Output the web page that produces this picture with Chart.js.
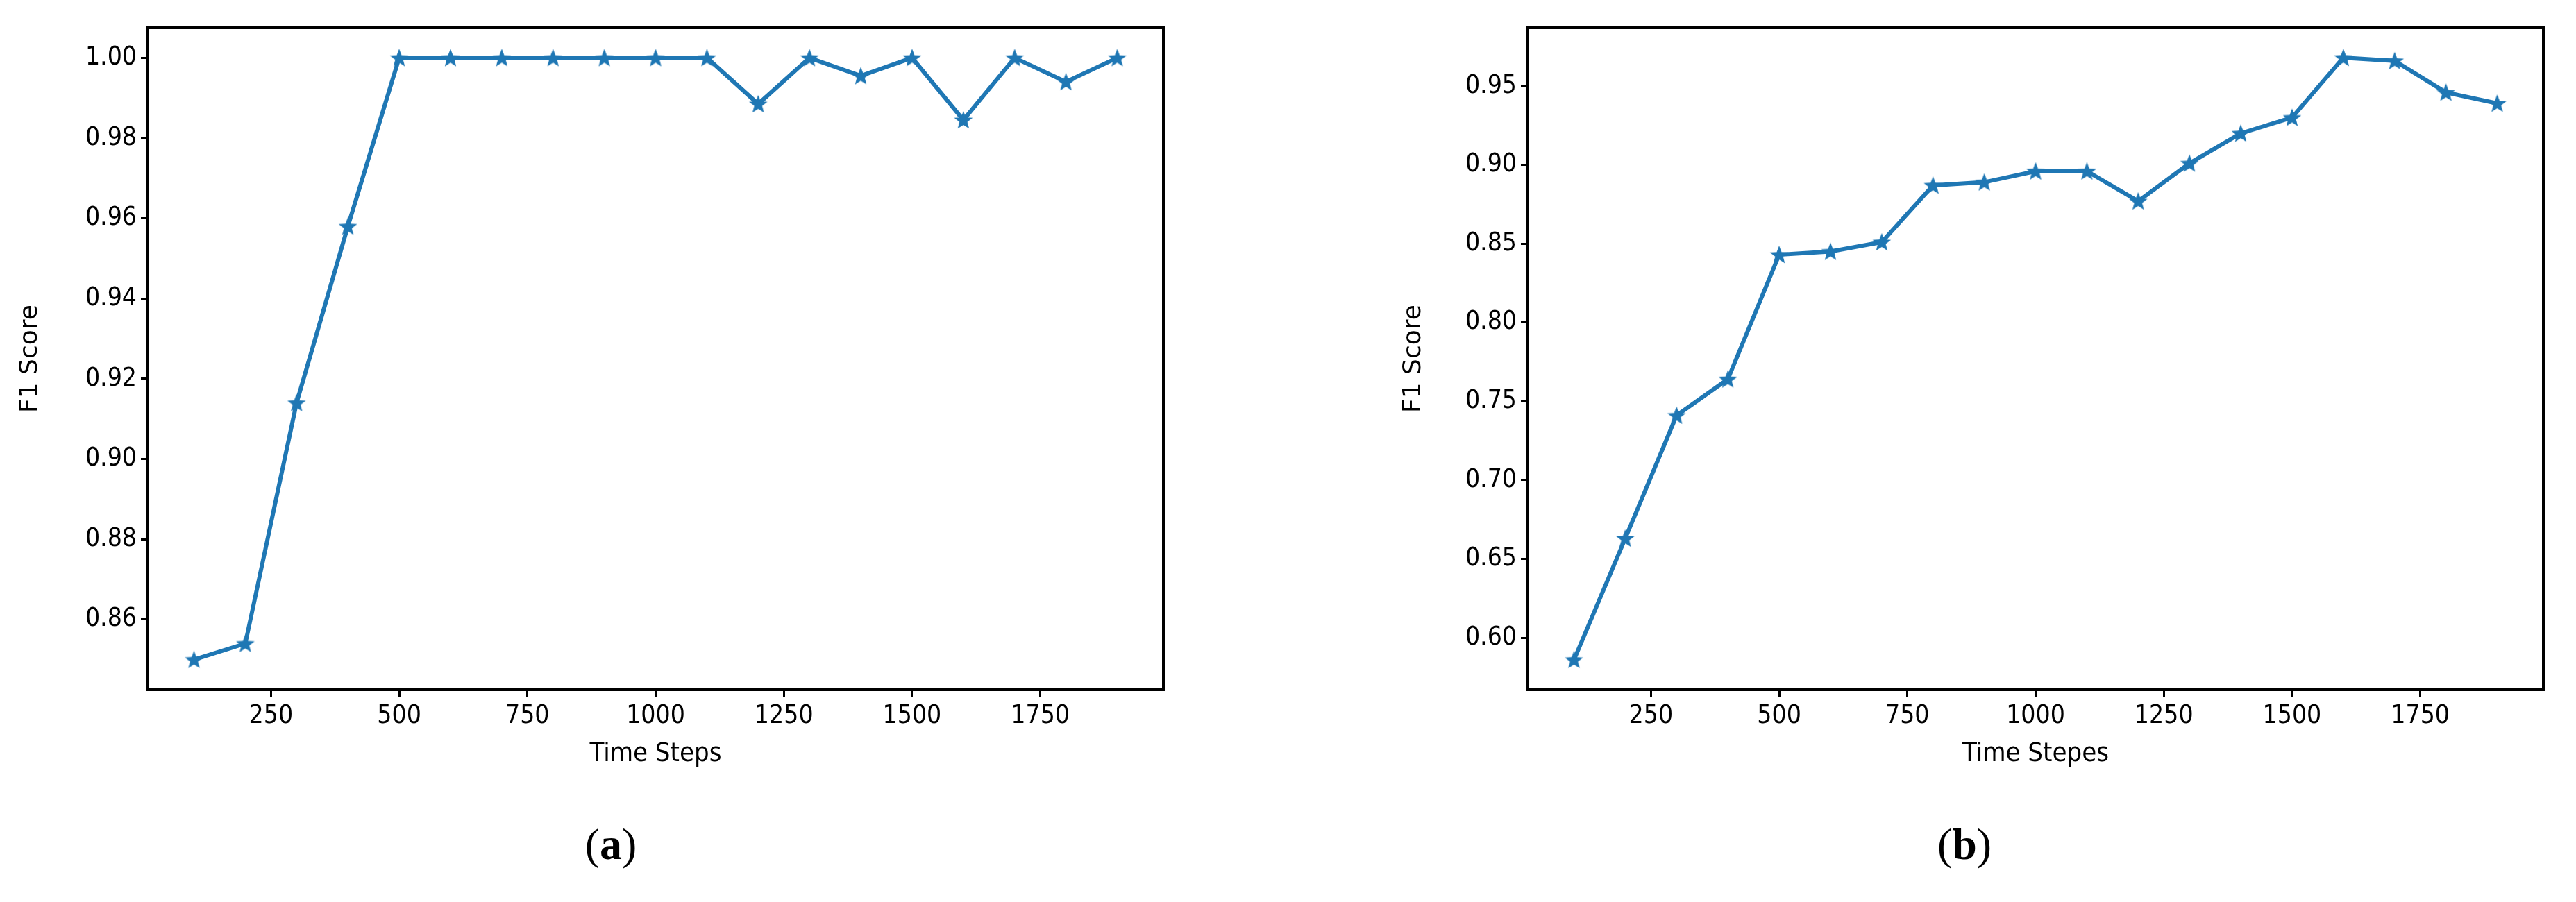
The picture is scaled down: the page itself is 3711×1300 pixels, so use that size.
<!DOCTYPE html>
<html><head><meta charset="utf-8">
<script src="https://cdn.jsdelivr.net/npm/chart.js@4"></script>
<style>
body{margin:0;width:3711px;height:1300px;background:#fff;position:relative;overflow:hidden}
.w{position:absolute;top:0;height:1300px}
.cap{position:absolute;top:1180px;font-family:"Liberation Serif",serif;font-size:64px;transform:translateX(-50%)}
</style></head><body>
<div class="w" style="left:0;width:1855px"><canvas id="a"></canvas></div>
<div class="w" style="left:1855px;width:1856px"><canvas id="b"></canvas></div>
<div class="cap" style="left:880px">(<b>a</b>)</div>
<div class="cap" style="left:2830px">(<b>b</b>)</div>
<script>
const steps=[100,200,300,400,500,600,700,800,900,1000,1100,1200,1300,1400,1500,1600,1700,1800,1900];
const f1A=[0.850,0.854,0.914,0.958,1.0,1.0,1.0,1.0,1.0,1.0,1.0,0.9885,1.0,0.9955,1.0,0.9845,1.0,0.994,1.0];
const f1B=[0.586,0.663,0.741,0.764,0.843,0.845,0.851,0.887,0.889,0.896,0.896,0.877,0.901,0.920,0.930,0.968,0.966,0.946,0.939];
const xTicks=[250,500,750,1000,1250,1500,1750];
const yTicksA=[0.86,0.88,0.90,0.92,0.94,0.96,0.98,1.00];
const yTicksB=[0.60,0.65,0.70,0.75,0.80,0.85,0.90,0.95];
const star=document.createElement('canvas');star.width=star.height=30;
(function(){const c=star.getContext('2d');c.fillStyle='#1f77b4';c.beginPath();
for(let i=0;i<10;i++){const r=i%2?6:14,a=-Math.PI/2+i*Math.PI/5;c.lineTo(15+r*Math.cos(a),16+r*Math.sin(a));}
c.closePath();c.fill();})();
const frame={id:'frame',afterDraw(c){const a=c.chartArea,x=c.ctx;x.save();x.strokeStyle='#000';x.lineWidth=4;x.strokeRect(a.left,a.top,a.right-a.left,a.bottom-a.top);x.restore();}};
function make(id,vals,yt,ymin,ymax,xtitle,padL,ywidth,padR){
  new Chart(document.getElementById(id),{type:'line',
    data:{datasets:[{data:steps.map((s,i)=>({x:s,y:vals[i]})),borderColor:'#1f77b4',backgroundColor:'#1f77b4',borderWidth:6,pointStyle:star,pointRadius:14,tension:0}]},
    options:{animation:false,responsive:true,maintainAspectRatio:false,devicePixelRatio:1,
      layout:{padding:{left:padL,right:padR,top:40,bottom:186}},
      plugins:{legend:{display:false},tooltip:{enabled:false}},
      scales:{
        x:{type:'linear',min:10,max:1990,afterBuildTicks:s=>{s.ticks=xTicks.map(v=>({value:v}))},afterFit:s=>{s.height=120},
          grid:{drawOnChartArea:false,color:'#000',tickLength:10,lineWidth:3},border:{display:false},
          ticks:{color:'#000',font:{family:'DejaVu Sans Condensed',size:37},padding:6,maxRotation:0,callback:v=>String(v)},
          title:{display:true,text:xtitle,color:'#000',font:{family:'DejaVu Sans Condensed',size:38},padding:{top:4}}},
        y:{min:ymin,max:ymax,afterBuildTicks:s=>{s.ticks=yt.map(v=>({value:v}))},afterFit:s=>{s.width=ywidth},
          grid:{drawOnChartArea:false,color:'#000',tickLength:10,lineWidth:3},border:{display:false},
          ticks:{color:'#000',font:{family:'DejaVu Sans Condensed',size:37},padding:6,callback:v=>v.toFixed(2)},
          title:{display:true,text:'F1 Score',color:'#000',font:{family:'DejaVu Sans',size:36},padding:0}}
      }},plugins:[frame]});
}
make('a',f1A,yTicksA,0.8425,1.0075,'Time Steps',22,191,179);
make('b',f1B,yTicksB,0.567,0.987,'Time Stepes',160,186,47);
</script></body></html>
